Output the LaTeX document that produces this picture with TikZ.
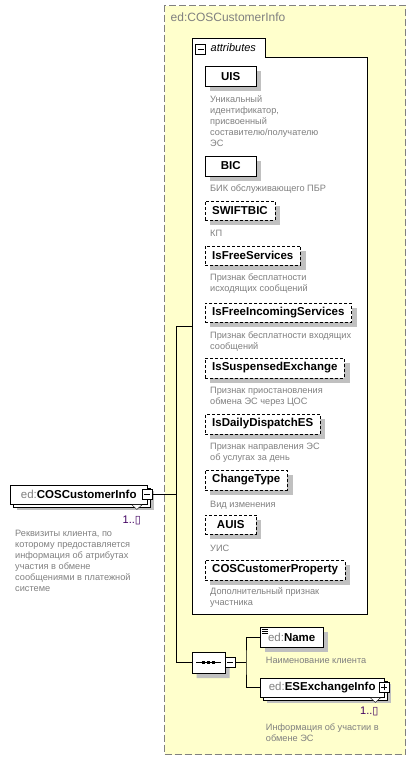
\documentclass[tikz,border=0pt]{standalone}
\usepackage{fontspec}
\setmainfont{Liberation Sans}
\newfontfamily\symfont{DejaVu Sans}
\usetikzlibrary{shapes.misc}
\definecolor{xsdyellow}{RGB}{255,255,204}
\definecolor{xsdgray}{RGB}{128,128,128}
\definecolor{xsdshade}{RGB}{192,192,192}
\definecolor{xsdocc}{RGB}{64,0,96}
\pgfdeclarelayer{back}
\pgfdeclarelayer{shadows}
\pgfdeclarelayer{copies}
\pgfsetlayers{back,shadows,copies,main}

\begin{document}
\begin{tikzpicture}[x=1pt, y=-1pt, line width=0.8pt,
    attr/.style={draw, fill=white, anchor=north west, minimum width=51pt, minimum height=19.5pt, inner xsep=7pt, inner ysep=0pt, font=\fontsize{11.5}{13}\selectfont\bfseries},
    optattr/.style={attr, dash pattern=on 3pt off 2pt},
    desc/.style={anchor=north west, inner sep=0pt, align=left, text=xsdgray, font=\fontsize{9.2}{11}\selectfont},
    elem/.style={draw, fill=white, anchor=north west, minimum height=18.5pt, inner xsep=6pt, inner ysep=0pt, font=\fontsize{11.5}{13}\selectfont\bfseries},
    pmbox/.style={draw, fill=white, minimum size=10pt, inner sep=0pt},
    minusbox/.style={pmbox, path picture={\draw ([xshift=-3pt]path picture bounding box.center) -- ([xshift=3pt]path picture bounding box.center);}},
    plusbox/.style={pmbox, path picture={\draw ([xshift=-3pt]path picture bounding box.center) -- ([xshift=3pt]path picture bounding box.center); \draw ([yshift=-3pt]path picture bounding box.center) -- ([yshift=3pt]path picture bounding box.center);}},
    seqbox/.style={chamfered rectangle, chamfered rectangle xsep=5pt, draw, fill=white, minimum width=33pt, minimum height=21pt, inner sep=0pt},
    occ/.style={anchor=base west, inner sep=0pt, text=xsdocc, font=\fontsize{11}{13}\selectfont}
  ]
  \useasboundingbox (0,0) rectangle (415,760);

  % complex type frame and attributes group
  \begin{pgfonlayer}{back}
    \node[draw=xsdgray, dash pattern=on 7pt off 3pt, line width=1.2pt, fill=xsdyellow, anchor=north west, minimum width=241pt, minimum height=749pt] (frame) at (164,5) {};
    \draw[fill=white] (192,614) -- (192,38) -- (265,38) -- (265,57) -- (367,57) -- (367,614) -- cycle;
  \end{pgfonlayer}
  \node[anchor=base west, inner sep=0pt, text=xsdgray, font=\fontsize{12}{14}\selectfont] (frametitle) at (170.5,22) {ed:COSCustomerInfo};
  \node[minusbox] (attrpm) at (200.5,49.5) {};
  \node[anchor=base west, inner sep=0pt, font=\fontsize{11}{13}\selectfont\itshape] (attrtitle) at (210.5,52) {attributes};

  \node[attr] (uis) at (205,66.5) {UIS};
  \node[desc] (uisdesc) at (210,94.8) {\strut Уникальный\\идентификатор,\\присвоенный\\составителю/получателю\\ЭС};
  \node[attr] (bic) at (205,156) {BIC};
  \node[desc] (bicdesc) at (210,183.3) {\strut БИК обслуживающего ПБР};
  \node[optattr] (swiftbic) at (205,200.5) {SWIFTBIC};
  \node[desc] (swiftbicdesc) at (210,228.3) {\strut КП};
  \node[optattr] (isfree) at (205,245.5) {IsFreeServices};
  \node[desc] (isfreedesc) at (210,272.8) {\strut Признак бесплатности\\исходящих сообщений};
  \node[optattr] (isfreein) at (205,302.5) {IsFreeIncomingServices};
  \node[desc] (isfreeindesc) at (210,330.3) {\strut Признак бесплатности входящих\\сообщений};
  \node[optattr] (issusp) at (205,358) {IsSuspensedExchange};
  \node[desc] (issuspdesc) at (210,385.8) {\strut Признак приостановления\\обмена ЭС через ЦОС};
  \node[optattr] (isdaily) at (205,414) {IsDailyDispatchES};
  \node[desc] (isdailydesc) at (210,441.8) {\strut Признак направления ЭС\\об услугах за день};
  \node[optattr] (chtype) at (205,470) {ChangeType};
  \node[desc] (chtypedesc) at (210,499.3) {\strut Вид изменения};
  \node[optattr] (auis) at (205,514.5) {AUIS};
  \node[desc] (auisdesc) at (210,543.3) {\strut УИС};
  \node[optattr] (cosprop) at (205,560) {COSCustomerProperty};
  \node[desc] (cospropdesc) at (210,586.3) {\strut Дополнительный признак\\участника};

  % root element
  \node[elem, minimum width=137pt] (root) at (10,485) {{\mdseries\color{xsdgray}ed:}COSCustomerInfo};
  \draw[fill=white] ([xshift=-15.5pt,yshift=-1pt]root.south east) -- ([xshift=-10.5pt,yshift=-5.5pt]root.south east) -- ([xshift=-5.5pt,yshift=-1pt]root.south east);
  \node[minusbox] (rootpm) at (root.east) {};
  \node[occ] (rootocc) at (122.5,523) {1..{\symfont ▯}};
  \node[desc] (rootdesc) at (15,528.3) {\strut Реквизиты клиента, по\\которому предоставляется\\информация об атрибутах\\участия в обмене\\сообщениями в платежной\\системе};

  % sequence
  \node[seqbox] (seq) at (208.5,662.5) {};
  \draw ([xshift=-12.5pt]seq.center) -- ([xshift=12.5pt]seq.center);
  \foreach \dx in {-5,0,5}
    \fill ([xshift=\dx pt]seq.center) +(-1.6,-1.6) rectangle +(1.6,1.6);
  \node[minusbox, anchor=west] (seqpm) at (seq.east) {};

  \node[attr, minimum width=63pt, minimum height=20pt] (nm) at (260,627) {{\mdseries\color{xsdgray}ed:}Name};
  \foreach \dy in {2,4,6}
    \draw[line width=0.6pt] ([xshift=2pt,yshift=-\dy pt]nm.north west) -- ++(6,0);
  \node[desc] (nmdesc) at (265.7,655.8) {\strut Наименование клиента};

  \node[elem, minimum width=124pt] (esx) at (260,678) {{\mdseries\color{xsdgray}ed:}ESExchangeInfo};
  \draw[fill=white] ([xshift=-14pt,yshift=-1pt]esx.south east) -- ([xshift=-9pt,yshift=-5.5pt]esx.south east) -- ([xshift=-4pt,yshift=-1pt]esx.south east);
  \node[plusbox] (esxpm) at (esx.east) {};
  \node[occ] (esxocc) at (360,714) {1..{\symfont ▯}};
  \node[desc] (esxdesc) at (265.7,722.3) {\strut Информация об участии в\\обмене ЭС};

  % shadows and stacked copies
  \begin{pgfonlayer}{shadows}
    \foreach \n in {uis,bic,swiftbic,isfree,isfreein,issusp,isdaily,chtype,auis,cosprop,nm}
      \fill[xsdshade] ([xshift=5pt,yshift=-5pt]\n.north west) rectangle ([xshift=5pt,yshift=-5pt]\n.south east);
    \foreach \n in {root,esx}
      \fill[xsdshade] ([xshift=6.5pt,yshift=-6pt]\n.north west) rectangle ([xshift=6.5pt,yshift=-6pt]\n.south east);
    \node[seqbox, draw=none, fill=xsdshade] (seqshade) at ([xshift=4.5pt,yshift=-5pt]seq.center) {};
  \end{pgfonlayer}
  \begin{pgfonlayer}{copies}
    \foreach \n in {root,esx}
      \draw[fill=white] ([xshift=3pt,yshift=-3pt]\n.north west) rectangle ([xshift=3pt,yshift=-3pt]\n.south east);
  \end{pgfonlayer}

  % connectors
  \coordinate (bus) at (176.5,326);
  \coordinate (attrin) at (192,326);
  \coordinate (sbus) at (246,662.5);
  \draw (rootpm.east) -- (bus |- rootpm.east);
  \draw (attrin) -- (bus) |- (seq.west);
  \draw (seqpm.east) -- (sbus);
  \draw (nm.west) -| (sbus) |- (esx.west);
\end{tikzpicture}
\end{document}
